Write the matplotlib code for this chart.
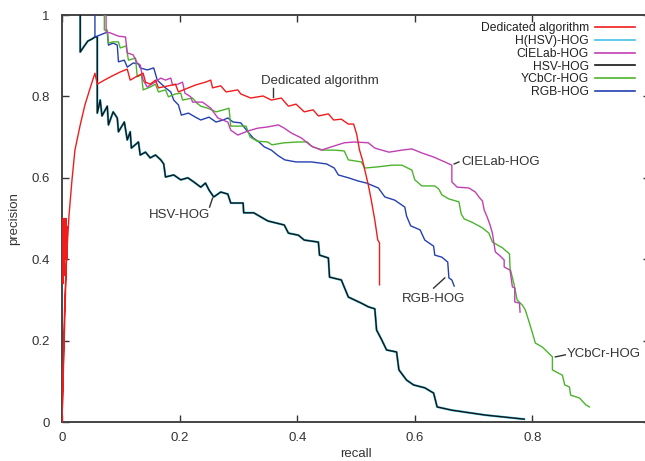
import matplotlib
matplotlib.use("Agg")
import matplotlib.pyplot as plt

plt.rcParams['font.family'] = ['Liberation Sans', 'DejaVu Sans']

# ---------------- data (recall, precision) ----------------
ded_recall = [0.001, 0.002, 0.003, 0.004, 0.005, 0.006, 0.007, 0.008, 0.009, 0.0,
              0.0017, 0.0034, 0.0051, 0.0085, 0.012, 0.017, 0.022, 0.031, 0.039, 0.048,
              0.056, 0.060, 0.072, 0.085, 0.099, 0.111, 0.116, 0.128, 0.138, 0.142,
              0.150, 0.159, 0.164, 0.181, 0.193, 0.198, 0.215, 0.227, 0.244, 0.253,
              0.256, 0.270, 0.279, 0.299, 0.304, 0.321, 0.342, 0.356, 0.373, 0.385,
              0.398, 0.412, 0.427, 0.436, 0.453, 0.462, 0.475, 0.487, 0.496, 0.501,
              0.506, 0.511, 0.515, 0.521, 0.526, 0.532, 0.537, 0.540, 0.540]
ded_precision = [0.50, 0.34, 0.50, 0.36, 0.50, 0.40, 0.50, 0.40, 0.48, 0.0,
                 0.103, 0.226, 0.312, 0.423, 0.509, 0.595, 0.668, 0.730, 0.779, 0.821,
                 0.857, 0.830, 0.840, 0.850, 0.860, 0.867, 0.840, 0.850, 0.857, 0.835,
                 0.830, 0.840, 0.821, 0.826, 0.830, 0.811, 0.821, 0.828, 0.835, 0.840,
                 0.821, 0.826, 0.811, 0.816, 0.806, 0.796, 0.801, 0.791, 0.796, 0.776,
                 0.781, 0.762, 0.767, 0.752, 0.757, 0.742, 0.744, 0.732, 0.732, 0.708,
                 0.668, 0.644, 0.619, 0.582, 0.545, 0.496, 0.447, 0.440, 0.337]

hsv_recall = [0.031, 0.031, 0.038, 0.044, 0.051, 0.056, 0.060, 0.060, 0.065, 0.068,
              0.077, 0.079, 0.087, 0.094, 0.096, 0.106, 0.111, 0.116, 0.118, 0.130,
              0.133, 0.142, 0.150, 0.159, 0.168, 0.173, 0.176, 0.190, 0.202, 0.214,
              0.224, 0.236, 0.244, 0.250, 0.258, 0.270, 0.282, 0.287, 0.308, 0.309,
              0.326, 0.338, 0.350, 0.378, 0.385, 0.402, 0.412, 0.436, 0.438, 0.453,
              0.455, 0.475, 0.487, 0.509, 0.521, 0.532, 0.535, 0.544, 0.552, 0.569,
              0.573, 0.586, 0.598, 0.617, 0.632, 0.638, 0.663, 0.720, 0.786]
hsv_precision = [1.0, 0.909, 0.924, 0.936, 0.941, 0.946, 0.946, 0.759, 0.791, 0.752,
                 0.776, 0.730, 0.762, 0.747, 0.713, 0.737, 0.693, 0.713, 0.673, 0.688,
                 0.656, 0.663, 0.649, 0.656, 0.644, 0.634, 0.602, 0.607, 0.595, 0.600,
                 0.590, 0.577, 0.587, 0.570, 0.553, 0.565, 0.560, 0.538, 0.538, 0.514,
                 0.514, 0.504, 0.494, 0.484, 0.464, 0.459, 0.447, 0.442, 0.410, 0.403,
                 0.356, 0.349, 0.307, 0.292, 0.283, 0.278, 0.226, 0.201, 0.177, 0.172,
                 0.128, 0.103, 0.091, 0.084, 0.071, 0.037, 0.029, 0.017, 0.007]

# H(HSV)-HOG lies on top of HSV-HOG in the reference
hhsv_recall = list(hsv_recall)
hhsv_precision = list(hsv_precision)

rgb_recall = [0.056, 0.056, 0.065, 0.077, 0.079, 0.087, 0.094, 0.096, 0.106, 0.111,
              0.121, 0.130, 0.133, 0.145, 0.156, 0.162, 0.176, 0.185, 0.190, 0.198,
              0.203, 0.215, 0.227, 0.236, 0.250, 0.262, 0.274, 0.282, 0.291, 0.304,
              0.316, 0.325, 0.335, 0.344, 0.356, 0.368, 0.379, 0.398, 0.424, 0.450,
              0.463, 0.470, 0.487, 0.504, 0.518, 0.538, 0.549, 0.566, 0.583, 0.586,
              0.593, 0.609, 0.617, 0.632, 0.634, 0.646, 0.656, 0.658, 0.663, 0.667]
rgb_precision = [1.0, 0.946, 0.951, 0.958, 0.926, 0.931, 0.926, 0.885, 0.889, 0.872,
                 0.882, 0.880, 0.870, 0.865, 0.870, 0.840, 0.821, 0.811, 0.791, 0.779,
                 0.754, 0.759, 0.749, 0.742, 0.749, 0.737, 0.742, 0.747, 0.737, 0.735,
                 0.713, 0.698, 0.688, 0.676, 0.668, 0.654, 0.644, 0.639, 0.639, 0.634,
                 0.624, 0.607, 0.600, 0.592, 0.587, 0.575, 0.553, 0.545, 0.528, 0.506,
                 0.482, 0.472, 0.447, 0.432, 0.410, 0.405, 0.393, 0.354, 0.349, 0.334]

ycc_recall = [0.072, 0.072, 0.077, 0.079, 0.087, 0.096, 0.099, 0.109, 0.113, 0.125,
              0.128, 0.135, 0.138, 0.150, 0.159, 0.164, 0.176, 0.181, 0.193, 0.202,
              0.205, 0.222, 0.229, 0.236, 0.248, 0.262, 0.275, 0.284, 0.287, 0.313,
              0.320, 0.332, 0.350, 0.357, 0.378, 0.402, 0.417, 0.426, 0.444, 0.463,
              0.480, 0.487, 0.509, 0.515, 0.538, 0.561, 0.578, 0.595, 0.600, 0.612,
              0.634, 0.641, 0.646, 0.658, 0.675, 0.679, 0.684, 0.697, 0.715, 0.726,
              0.732, 0.749, 0.761, 0.762, 0.769, 0.774, 0.783, 0.788, 0.795, 0.800,
              0.805, 0.817, 0.822, 0.834, 0.834, 0.851, 0.855, 0.863, 0.865, 0.880,
              0.891, 0.897]
ycc_precision = [1.0, 0.963, 0.963, 0.931, 0.934, 0.934, 0.919, 0.924, 0.889, 0.894,
                 0.848, 0.853, 0.816, 0.823, 0.830, 0.811, 0.816, 0.799, 0.806, 0.808,
                 0.791, 0.796, 0.784, 0.776, 0.771, 0.762, 0.767, 0.771, 0.727, 0.727,
                 0.700, 0.690, 0.688, 0.681, 0.686, 0.688, 0.688, 0.676, 0.668, 0.668,
                 0.666, 0.644, 0.639, 0.624, 0.627, 0.631, 0.631, 0.619, 0.595, 0.580,
                 0.580, 0.572, 0.558, 0.548, 0.541, 0.511, 0.499, 0.491, 0.477, 0.464,
                 0.442, 0.428, 0.413, 0.378, 0.337, 0.300, 0.287, 0.275, 0.243, 0.219,
                 0.194, 0.184, 0.177, 0.160, 0.128, 0.115, 0.091, 0.086, 0.066, 0.059,
                 0.042, 0.037]

lab_recall = [0.075, 0.075, 0.082, 0.096, 0.108, 0.111, 0.121, 0.128, 0.133, 0.138,
              0.145, 0.156, 0.168, 0.176, 0.185, 0.188, 0.197, 0.205, 0.209, 0.219,
              0.222, 0.239, 0.253, 0.265, 0.282, 0.287, 0.299, 0.316, 0.333, 0.350,
              0.368, 0.378, 0.390, 0.407, 0.424, 0.441, 0.458, 0.480, 0.497, 0.521,
              0.532, 0.556, 0.578, 0.595, 0.612, 0.632, 0.651, 0.663, 0.663, 0.672,
              0.692, 0.703, 0.709, 0.715, 0.718, 0.723, 0.728, 0.732, 0.735, 0.737,
              0.745, 0.752, 0.752, 0.762, 0.766, 0.770, 0.770, 0.778, 0.779]
lab_precision = [1.0, 0.958, 0.956, 0.948, 0.946, 0.907, 0.902, 0.882, 0.877, 0.840,
                 0.823, 0.833, 0.845, 0.840, 0.845, 0.828, 0.830, 0.835, 0.808, 0.799,
                 0.786, 0.786, 0.771, 0.747, 0.737, 0.717, 0.705, 0.715, 0.722, 0.725,
                 0.730, 0.722, 0.710, 0.698, 0.678, 0.668, 0.676, 0.686, 0.688, 0.686,
                 0.673, 0.663, 0.668, 0.671, 0.661, 0.651, 0.639, 0.631, 0.590, 0.577,
                 0.575, 0.565, 0.553, 0.543, 0.521, 0.504, 0.484, 0.464, 0.435, 0.418,
                 0.408, 0.398, 0.381, 0.373, 0.332, 0.329, 0.295, 0.292, 0.270]

legend_labels = ["Dedicated algorithm", "H(HSV)-HOG", "CIELab-HOG",
                 "HSV-HOG", "YCbCr-HOG", "RGB-HOG"]
x_ticks = [0, 0.2, 0.4, 0.6, 0.8]
x_tick_labels = ["0", "0.2", "0.4", "0.6", "0.8"]
y_ticks = [0, 0.2, 0.4, 0.6, 0.8, 1]
y_tick_labels = ["0", "0.2", "0.4", "0.6", "0.8", "1"]

# ---------------- figure ----------------
W, H = 645, 461
fig = plt.figure(figsize=(W / 100, H / 100), dpi=100)
ax = fig.add_axes([62 / W, (H - 422) / H, 588 / W, 407 / H])

c_red = '#f01c1c'
c_cyan = '#40c4e4'
c_mag = '#c040b4'
c_blk = '#151515'
c_grn = '#4cb42c'
c_blu = '#2440b0'

lw = 1.0
l_hhsv, = ax.plot(hhsv_recall, hhsv_precision, color=c_cyan, lw=1.6, zorder=2)
l_hsv, = ax.plot(hsv_recall, hsv_precision, color=c_blk, lw=lw, zorder=3)
l_rgb, = ax.plot(rgb_recall, rgb_precision, color=c_blu, lw=lw, zorder=3)
l_ycc, = ax.plot(ycc_recall, ycc_precision, color=c_grn, lw=lw, zorder=3)
l_lab, = ax.plot(lab_recall, lab_precision, color=c_mag, lw=lw, zorder=4)
l_ded, = ax.plot(ded_recall, ded_precision, color=c_red, lw=lw, zorder=5)

ax.set_xlim(0, 1)
ax.set_ylim(0, 1)
ax.set_xticks(x_ticks)
ax.set_xticklabels(x_tick_labels)
ax.set_yticks(y_ticks)
ax.set_yticklabels(y_tick_labels)
ax.tick_params(direction='in', length=5, width=1.0, colors='#333333',
               labelsize=9.5, top=True, right=True)
ax.tick_params(axis='x', pad=7)
ax.tick_params(axis='y', pad=9)
for s in ax.spines.values():
    s.set_color('#444444')
    s.set_linewidth(1.4)

ax.set_xlabel('recall', fontsize=9.5, color='#333333', labelpad=3)
ax.set_ylabel('precision', fontsize=9.5, color='#333333', labelpad=8)

# annotations
tcol = '#333333'
fs = 9.5
ax.text(0.338, 0.838, 'Dedicated algorithm', fontsize=fs, color=tcol,
        ha='left', va='center')
ax.plot([0.359, 0.359], [0.821, 0.799], color=tcol, lw=1.0)
ax.text(0.679, 0.639, 'CIELab-HOG', fontsize=fs, color=tcol, ha='left', va='center')
ax.plot([0.667, 0.675], [0.634, 0.639], color=tcol, lw=1.0)
ax.text(0.147, 0.509, 'HSV-HOG', fontsize=fs, color=tcol, ha='left', va='center')
ax.plot([0.251, 0.256], [0.528, 0.550], color=tcol, lw=1.0)
ax.text(0.578, 0.302, 'RGB-HOG', fontsize=fs, color=tcol, ha='left', va='center')
ax.plot([0.632, 0.651], [0.329, 0.354], color=tcol, lw=1.0)
ax.text(0.858, 0.167, 'YCbCr-HOG', fontsize=fs, color=tcol, ha='left', va='center')
ax.plot([0.839, 0.856], [0.160, 0.165], color=tcol, lw=1.0)

handles = [l_ded, l_hhsv, l_lab, l_hsv, l_ycc, l_rgb]
leg = ax.legend(handles, legend_labels, loc='upper right',
                bbox_to_anchor=(0.975, 0.982), frameon=False, markerfirst=False,
                fontsize=8.7, handlelength=3.3, handletextpad=0.55,
                labelspacing=0.06, borderpad=0, borderaxespad=0)
for col in leg._legend_box._children[-1]._children:
    col.align = 'right'
for t in leg.get_texts():
    t.set_color('#222222')
for h in leg.legend_handles:
    h.set_linewidth(1.2)

fig.savefig('out.png', dpi=100)
